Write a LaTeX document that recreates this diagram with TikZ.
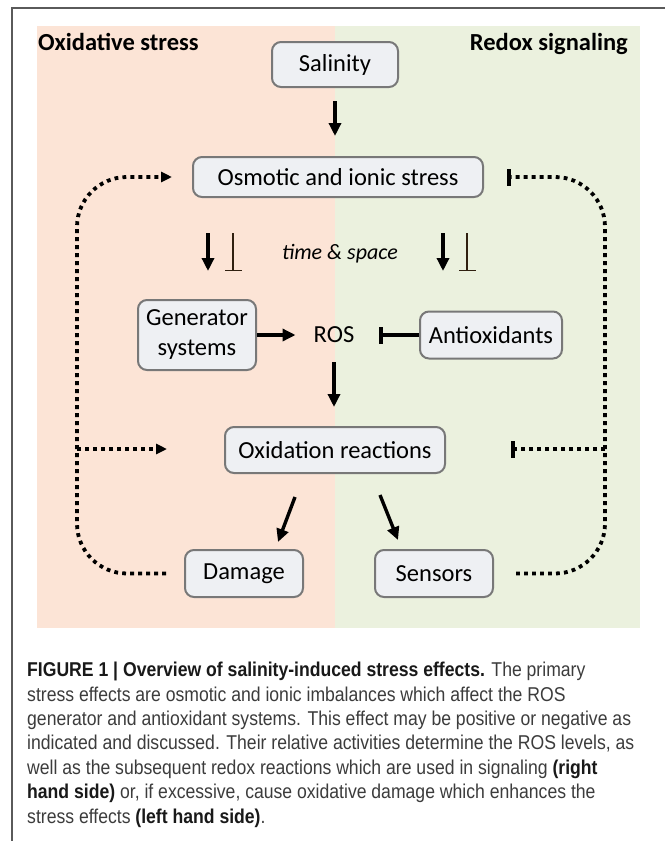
\documentclass[tikz,border=0pt]{standalone}
\usepackage{fontspec}
\setmainfont{Carlito}
\newfontfamily\capfont[FakeStretch=0.88]{Liberation Sans}
\usetikzlibrary{arrows.meta}
\definecolor{pinkbg}{RGB}{252,228,214}
\definecolor{greenbg}{RGB}{235,241,222}
\definecolor{boxfill}{RGB}{238,240,243}
\definecolor{boxline}{RGB}{120,120,120}
\definecolor{framecol}{RGB}{90,90,90}
\definecolor{captext}{RGB}{60,60,60}
\begin{document}
\begin{tikzpicture}[x=1pt,y=-1pt,
  box/.style={draw=boxline, fill=boxfill, line width=2pt, rounded corners=9pt, inner sep=0pt, align=center, font=\fontsize{24.5}{30}\selectfont},
  lbl/.style={inner sep=0pt, font=\fontsize{24.5}{27}\selectfont},
  arr/.style={line width=3.4pt, -{Triangle[length=13pt,width=12pt]}},
  tbar/.style={line width=3.4pt, -{Bar[width=17pt,line width=3.6pt]}},
  thinT/.style={line width=1.5pt, draw=black!75!brown, -{Bar[width=17pt]}},
  dots/.style={line width=3.8pt, dash pattern=on 3.8pt off 4.2pt, rounded corners=50pt},
  dotarr/.style={-{Triangle[length=11pt,width=10pt]}},
  dotbar/.style={-{Bar[width=17pt,line width=3.6pt]}},
]
\useasboundingbox (0,0) rectangle (665,841);
\fill[white] (0,0) rectangle (665,841);
% backgrounds
\fill[pinkbg] (37,26) rectangle (335,628);
\fill[greenbg] (335,26) rectangle (640,628);
% frame
\draw[framecol, line width=1.5pt] (12,841) -- (12,8) -- (665,8);

% headings
\node[lbl, font=\fontsize{24.5}{27}\selectfont\bfseries, anchor=base west] (oxs) at (38,50) {Oxidative stress};
\node[lbl, font=\fontsize{24.5}{27}\selectfont\bfseries, anchor=base east] (rds) at (628,50) {Redox signaling};
\node[lbl, font=\fontsize{22}{26}\selectfont\itshape, anchor=base] (ts) at (340,259) {time \& space};

% boxes
\node[box, minimum width=126pt, minimum height=45pt] (sal) at (335,64.5) {Salinity};
\node[box, minimum width=290pt, minimum height=40pt] (osm) at (338,177) {Osmotic and ionic stress};
\node[box, minimum width=118pt, minimum height=70pt] (gen) at (197,335) {Generator\\systems};
\node[lbl] (ros) at (334,335) {ROS};
\node[box, minimum width=142pt, minimum height=47pt] (anti) at (491,335) {Antioxidants};
\node[box, minimum width=220pt, minimum height=46pt] (oxi) at (335,450) {Oxidation reactions};
\node[box, minimum width=118pt, minimum height=47pt] (dam) at (244,573.5) {Damage};
\node[box, minimum width=118pt, minimum height=47pt] (sen) at (434,573.5) {Sensors};

% solid connectors
\draw[arr, shorten <=13pt, shorten >=20pt] (sal.south) -- (sal.south |- osm.north);
\coordinate (p1a) at (208,233); \coordinate (p1b) at (208,271);
\coordinate (p2a) at (233,233); \coordinate (p2b) at (233,271);
\coordinate (p3a) at (443,233); \coordinate (p3b) at (443,271);
\coordinate (p4a) at (467,233); \coordinate (p4b) at (467,271);
\draw[arr] (p1a) -- (p1b);
\draw[thinT] (p2a) -- (p2b);
\draw[arr] (p3a) -- (p3b);
\draw[thinT] (p4a) -- (p4b);
\draw[arr, shorten >=18pt] (gen.east) -- (gen.east -| ros.west);
\draw[tbar, shorten >=25pt] (anti.west) -- (anti.west -| ros.east);
\draw[arr, shorten <=19pt, shorten >=19pt] (ros.south) -- (ros.south |- oxi.north);
\coordinate (d1) at (295,497); \coordinate (d2) at (278,542);
\coordinate (s1) at (380,495); \coordinate (s2) at (398,540);
\draw[arr] (d1) -- (d2);
\draw[arr] (s1) -- (s2);

% dotted feedback loops
\draw[dots, dotarr, shorten <=18pt, shorten >=20pt] (dam.west) -- (77,573.5) -- (77,177) -- (osm.west);
\draw[dots, dotbar, shorten <=22pt, shorten >=23pt] (sen.east) -- (605,573.5) -- (605,177) -- (osm.east);
\coordinate (lm) at (77,449);
\coordinate (rm) at (605,449);
\draw[dots, dotarr, shorten >=57pt] (lm) -- (lm -| oxi.west);
\draw[dots, dotbar, shorten >=65pt] (rm) -- (rm -| oxi.east);

% caption
\node[anchor=north west, inner sep=0pt, align=left, text=captext,
      font=\capfont\fontsize{20}{24.4}\selectfont] (cap) at (27,662)
{\textcolor{black!90}{\bfseries FIGURE 1 | Overview of salinity-induced stress effects.} The primary\\
stress effects are osmotic and ionic imbalances which affect the ROS\\
generator and antioxidant systems. This effect may be positive or negative as\\
indicated and discussed. Their relative activities determine the ROS levels, as\\
well as the subsequent redox reactions which are used in signaling \textcolor{black!90}{\bfseries (right}\\
\textcolor{black!90}{\bfseries hand side)} or, if excessive, cause oxidative damage which enhances the\\
stress effects \textcolor{black!90}{\bfseries (left hand side)}.};
\end{tikzpicture}
\end{document}
